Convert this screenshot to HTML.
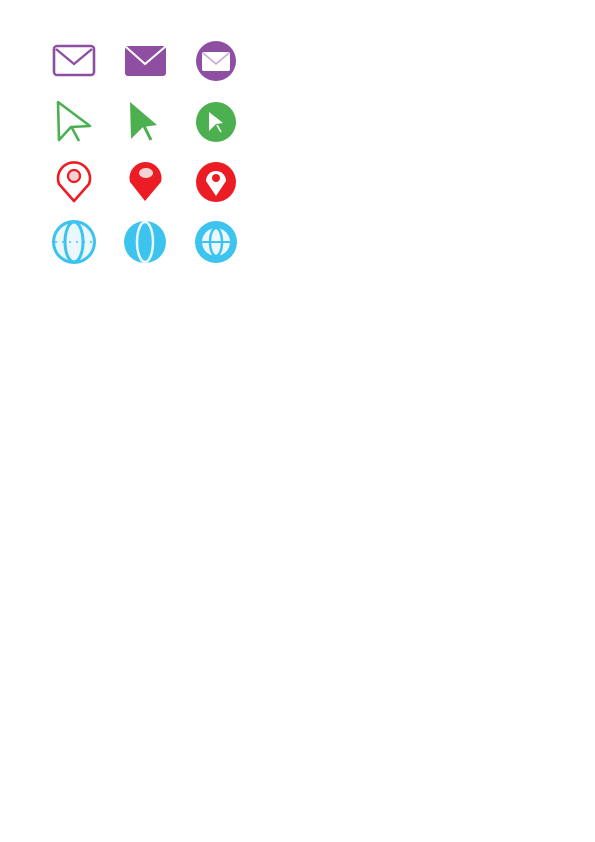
<!DOCTYPE html>
<html><head><meta charset="utf-8"><style>
html,body{margin:0;padding:0;background:#fff;width:595px;height:842px;overflow:hidden}
svg{position:absolute;left:0;top:0}
</style></head><body>
<svg width="595" height="842" viewBox="0 0 595 842">
<!-- Row 1: mail -->
<g>
<rect x="54" y="46" width="40" height="29" rx="3" fill="none" stroke="#8e4fa3" stroke-width="2.6"/>
<polyline points="56,49 74,64 92,49" fill="none" stroke="#8e4fa3" stroke-width="2.4"/>
</g>
<g>
<rect x="125" y="46" width="41" height="30" rx="3" fill="#8e4fa3"/>
<polyline points="126,47 145,64 165,47" fill="none" stroke="#fff" stroke-width="2"/>
</g>
<g>
<circle cx="216" cy="61" r="20" fill="#8e4fa3"/>
<rect x="202" y="52" width="28" height="19" rx="2" fill="#fff"/>
<polyline points="203,53 216,64 229,53" fill="none" stroke="#c9a8d4" stroke-width="1.5"/>
</g>
<!-- Row 2: cursor -->
<g>
<path d="M58,102 L90,126 L71,127 L59,140 Z" fill="none" stroke="#4cb050" stroke-width="2.6" stroke-linejoin="round"/>
<line x1="72" y1="128" x2="79" y2="141" stroke="#4cb050" stroke-width="2.6"/>
</g>
<g>
<path d="M130,102 L157,125 L143,127 L131,139 Z" fill="#4cb050"/>
<line x1="144" y1="126" x2="151" y2="140" stroke="#4cb050" stroke-width="3"/>
</g>
<g>
<circle cx="216" cy="122" r="20" fill="#4cb050"/>
<path d="M209,112 L223,123 L216,124 L209,131 Z" fill="#fff"/>
<line x1="217" y1="125" x2="221" y2="132" stroke="#fff" stroke-width="1.6"/>
</g>
<!-- Row 3: pin -->
<g>
<path d="M74,201 L59,184 A16,16 0 1 1 89,184 Z" fill="none" stroke="#ec1c24" stroke-width="2.6" stroke-linejoin="round"/>
<circle cx="74" cy="176" r="6" fill="#f3d3d3" stroke="#ec1c24" stroke-width="2.2"/>
</g>
<g>
<path d="M145,201 L130,182 A16,16 0 1 1 161,182 Z" fill="#ec1c24"/>
<ellipse cx="146" cy="173" rx="7" ry="5" fill="#f3d3d3"/>
</g>
<g>
<circle cx="216" cy="182" r="20" fill="#ec1c24"/>
<path d="M216,196 L206,181 A10,10 0 1 1 226,181 Z" fill="#fff"/>
<circle cx="216" cy="178" r="4" fill="#ec1c24"/>
</g>
<!-- Row 4: globe -->
<g>
<circle cx="74" cy="242" r="22" fill="#3cc3ee"/>
<ellipse cx="74" cy="242" rx="19" ry="19" fill="#eaf7fc"/>
<ellipse cx="74" cy="242" rx="9" ry="20" fill="none" stroke="#3cc3ee" stroke-width="3"/>
<line x1="55" y1="242" x2="93" y2="242" stroke="#3cc3ee" stroke-width="1.5" stroke-dasharray="2,5"/>
</g>
<g>
<circle cx="145" cy="242" r="21" fill="#3cc3ee"/>
<ellipse cx="145" cy="242" rx="8" ry="20" fill="none" stroke="#eaf7fc" stroke-width="2.5"/>
</g>
<g>
<circle cx="216" cy="242" r="21" fill="#3cc3ee"/>
<circle cx="216" cy="242" r="14" fill="#eaf7fc"/>
<ellipse cx="216" cy="242" rx="6" ry="14" fill="none" stroke="#3cc3ee" stroke-width="2.5"/>
<line x1="202" y1="242" x2="230" y2="242" stroke="#3cc3ee" stroke-width="2"/>
</g>
</svg>
</body></html>
